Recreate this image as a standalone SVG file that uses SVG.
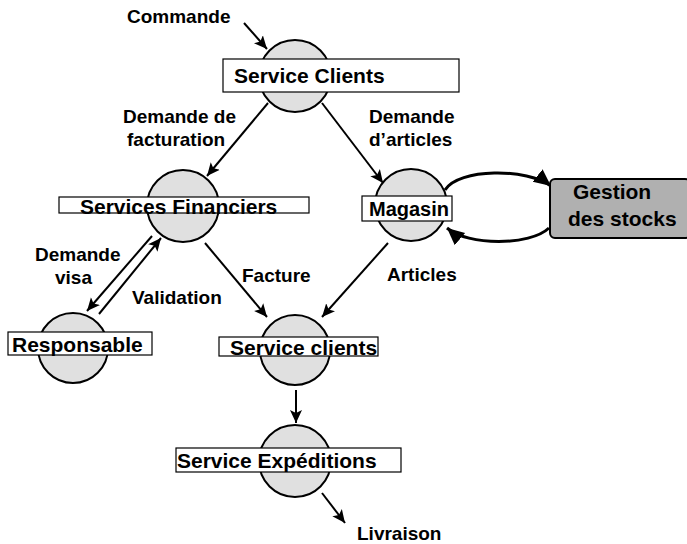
<svg xmlns="http://www.w3.org/2000/svg" width="687" height="544" viewBox="0 0 687 544">
  <style>
    .proc { fill: #e0e0e0; stroke: #000; stroke-width: 2; }
    .tag { fill: #fff; stroke: #000; stroke-width: 1.2; }
    .name { font-family: "Liberation Sans", Arial, sans-serif; font-weight: bold; font-size: 21px; fill: #000; }
    .lbl { font-family: "Liberation Sans", Arial, sans-serif; font-weight: bold; font-size: 19px; fill: #000; }
    .flow { fill: none; stroke: #000; stroke-width: 2; marker-end: url(#barb); }
    .loop { fill: none; stroke: #000; stroke-width: 3; marker-end: url(#tri); }
  </style>
  <defs>
    <marker id="barb" viewBox="0 -7 14 14" refX="13" refY="0" markerWidth="14" markerHeight="14" markerUnits="userSpaceOnUse" orient="auto">
      <path d="M0,-6 L13,0 L0,6 L3,0 z" fill="#000"/>
    </marker>
    <marker id="tri" viewBox="0 -9 18 18" refX="17" refY="0" markerWidth="18" markerHeight="18" markerUnits="userSpaceOnUse" orient="auto">
      <path d="M0,-8 L17,0 L0,8 z" fill="#000"/>
    </marker>
  </defs>

  <!-- connectors -->
  <g id="connectors">
    <line class="flow" x1="244" y1="23" x2="267" y2="49"/>
    <line class="flow" x1="268" y1="103" x2="207" y2="176"/>
    <line class="flow" x1="322" y1="103" x2="383" y2="183"/>
    <line class="flow" x1="152" y1="236" x2="87" y2="311"/>
    <line class="flow" x1="99" y1="314" x2="161" y2="238"/>
    <line class="flow" x1="205" y1="243" x2="267" y2="317"/>
    <line class="flow" x1="388" y1="243" x2="322" y2="317"/>
    <line class="flow" x1="296" y1="390" x2="296" y2="423"/>
    <line class="flow" x1="322" y1="493" x2="345" y2="523"/>
    <path class="loop" d="M445,190 C458,168 528,168 551,186"/>
    <path class="loop" d="M549,228 C530,246 468,246 447,228"/>
  </g>

  <!-- flow labels -->
  <g id="labels">
    <text class="lbl" x="127" y="23">Commande</text>
    <text class="lbl" x="123" y="123">Demande de</text>
    <text class="lbl" x="127" y="146">facturation</text>
    <text class="lbl" x="369" y="123">Demande</text>
    <text class="lbl" x="369" y="146">d’articles</text>
    <text class="lbl" x="35" y="261">Demande</text>
    <text class="lbl" x="55" y="284">visa</text>
    <text class="lbl" x="132" y="304">Validation</text>
    <text class="lbl" x="242" y="282">Facture</text>
    <text class="lbl" x="387" y="281">Articles</text>
    <text class="lbl" x="357" y="540">Livraison</text>
  </g>

  <g id="service-clients">
    <circle class="proc" cx="295" cy="76" r="36"/>
    <rect class="tag" x="223" y="59" width="236" height="33"/>
    <text class="name" x="234" y="83">Service Clients</text>
  </g>

  <g id="services-financiers">
    <circle class="proc" cx="183" cy="206" r="36"/>
    <rect class="tag" x="59" y="197" width="250" height="16"/>
    <text class="name" x="80" y="214">Services Financiers</text>
  </g>

  <g id="magasin">
    <circle class="proc" cx="411" cy="205" r="36"/>
    <rect class="tag" x="362" y="196" width="90" height="25"/>
    <text class="name" x="369" y="216" style="font-size:20px">Magasin</text>
  </g>

  <g id="gestion-stocks">
    <rect x="550" y="179" width="140" height="59" rx="5" ry="5" fill="#b0b0b0" stroke="#000" stroke-width="2"/>
    <text class="name" x="573" y="199">Gestion</text>
    <text class="name" x="568" y="226">des stocks</text>
  </g>

  <g id="responsable">
    <circle class="proc" cx="73" cy="348" r="35"/>
    <rect class="tag" x="8" y="332" width="144" height="23"/>
    <text class="name" x="12" y="352">Responsable</text>
  </g>

  <g id="service-clients-2">
    <circle class="proc" cx="295" cy="350" r="35"/>
    <rect class="tag" x="219" y="337" width="159" height="19"/>
    <text class="name" x="230" y="355">Service clients</text>
  </g>

  <g id="service-expeditions">
    <circle class="proc" cx="295" cy="461" r="36"/>
    <rect class="tag" x="176" y="448" width="225" height="24"/>
    <text class="name" x="177" y="468">Service Expéditions</text>
  </g>
</svg>
